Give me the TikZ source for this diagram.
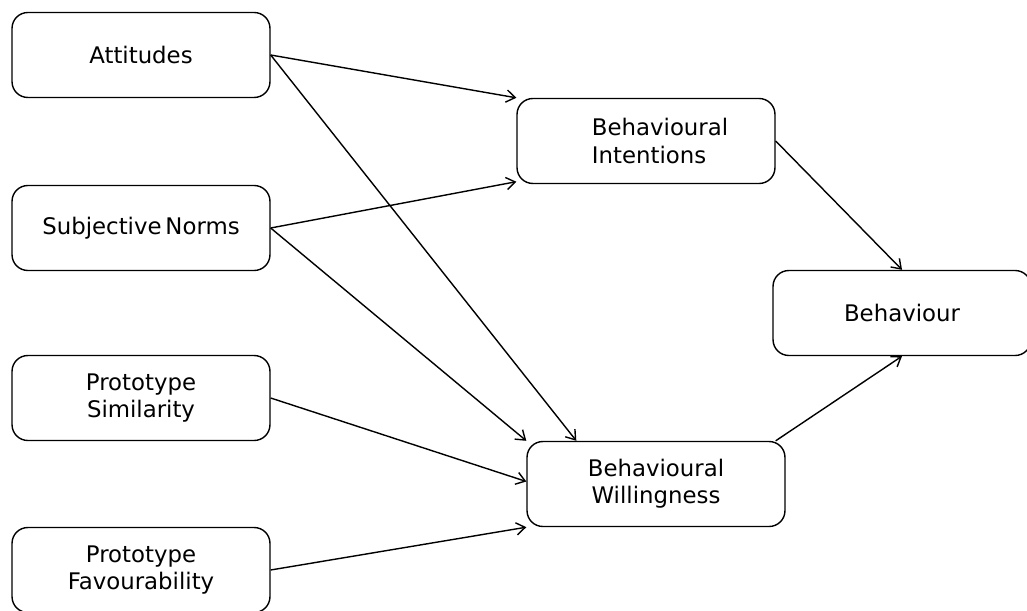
\documentclass[tikz,border=0pt]{standalone}
\usepackage{fontspec}
\setmainfont{DejaVu Sans}
\usetikzlibrary{arrows.meta}
\begin{document}
\begin{tikzpicture}[x=0.02cm,y=-0.02cm,
  box/.style={draw,thick,rounded corners=9pt,minimum width=5.16cm,minimum height=1.7cm,
    align=center,font=\fontsize{13}{15.4}\selectfont},
  link/.style={->,thick,>={Straight Barb[length=5pt,width=7pt]}}]
\useasboundingbox (0,0) rectangle (1027,611);
% predictors on the left
\node[box] (att) at (141,55) {Attitudes};
\node[box] (norms) at (141,228) {Subjective\,Norms};
\node[box] (sim) at (141,398) {Prototype\\Similarity};
\node[box] (fav) at (141,570) {Prototype\\Favourability};
% intentions and willingness
\node[box,align=left] (int) at (646,141) {\hspace*{16pt}Behavioural\\\hspace*{16pt}Intentions};
\node[box] (will) at (656,484) {Behavioural\\Willingness};
% outcome
\node[box] (beh) at (902,313) {Behaviour};
% paths
\draw[link] (att.east) -- (int.north west);
\draw[link] (att.east) -- ([xshift=1cm]will.north west);
\draw[link] (norms.east) -- ([yshift=0.05cm]int.south west);
\draw[link] (norms.east) -- (will.north west);
\draw[link] (sim.east) -- ([yshift=0.05cm]will.west);
\draw[link] (fav.east) -- (will.south west);
\draw[link] (int.east) -- (beh.north);
\draw[link] ([xshift=-0.2cm]will.north east) -- (beh.south);
\end{tikzpicture}
\end{document}
